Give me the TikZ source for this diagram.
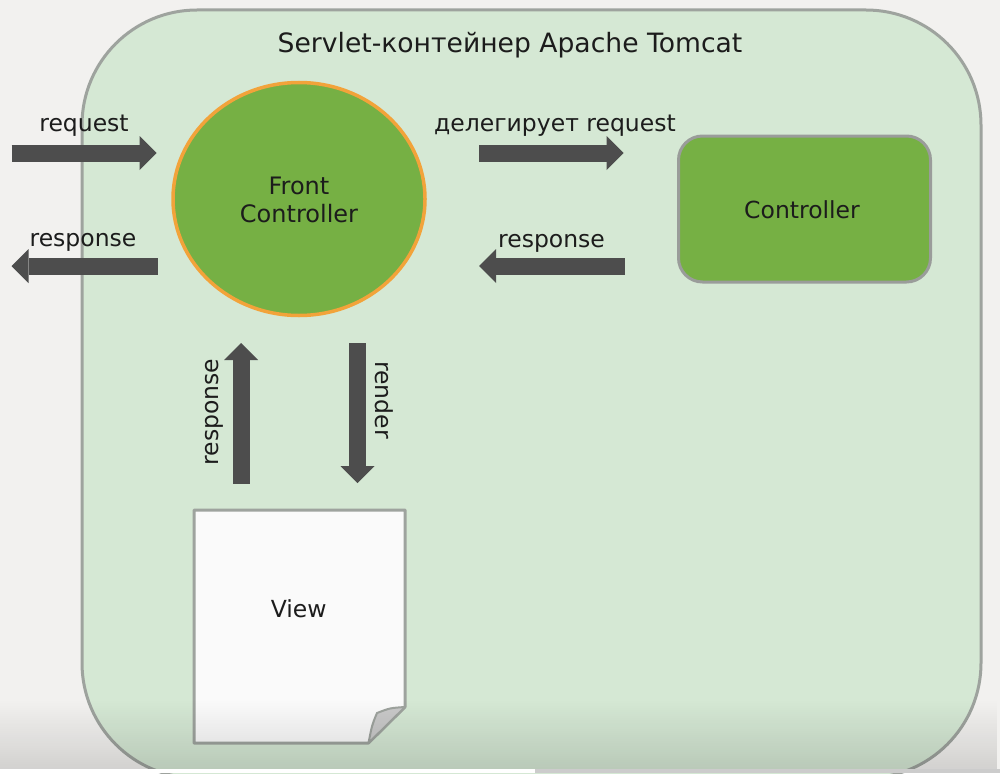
\documentclass[tikz,border=0pt]{standalone}
\usepackage{fontspec}
\setmainfont{DejaVu Sans}
\usetikzlibrary{arrows.meta,fadings,shapes.geometric}
\definecolor{bgc}{HTML}{F2F1EF}
\definecolor{contfill}{HTML}{D5E8D4}
\definecolor{contline}{HTML}{9EA39E}
\definecolor{greenfill}{HTML}{76B044}
\definecolor{orangeline}{HTML}{F2A33A}
\definecolor{boxline}{HTML}{9A9C9A}
\definecolor{arrowc}{HTML}{4D4D4D}
\definecolor{txt}{HTML}{1C1C1C}
\definecolor{pagefill}{HTML}{FAFAFA}
\definecolor{foldfill}{HTML}{C9C9C9}
\tikzset{
  lbl/.style={font=\fontsize{23.5}{28}\selectfont, text=txt, inner sep=0pt, anchor=base},
  blockarrow/.style={draw=arrowc, line width=17pt,
    -{Triangle[width=34pt,length=17pt,line width=0pt]}},
}
\begin{document}
\begin{tikzpicture}[x=1pt,y=-1pt]
\useasboundingbox (0,0) rectangle (1000,773);
\clip (0,0) rectangle (1000,773);
\fill[bgc] (0,0) rectangle (1000,773);
% container
\draw[fill=contfill, draw=contline, line width=3pt, rounded corners=115pt]
  (82,10) rectangle (981,778);
\node[lbl, font=\fontsize{26.6}{30}\selectfont] (title) at (510,52.3) {Servlet-контейнер Apache Tomcat};
% front controller
\node[ellipse, draw=orangeline, fill=greenfill, line width=3.5pt,
  minimum width=252pt, minimum height=233pt, inner sep=0pt] (fc) at (299,199) {};
\node[lbl, align=center, font=\fontsize{24}{28.4}\selectfont] (fctext) at (299,222.7) {Front\\Controller};
% controller
\node[draw=boxline, fill=greenfill, line width=3pt, rounded corners=24pt,
  minimum width=252pt, minimum height=146pt, inner sep=0pt] (ctrl) at (804.5,209) {};
\node[lbl] (ctrltext) at (802,218.3) {Controller};
% view page
\coordinate (v1) at (194,510);
\coordinate (v2) at (405,510);
\coordinate (v3) at (405,707);
\coordinate (v4) at (368.5,743);
\coordinate (v5) at (194,743);
\coordinate (vc) at (377,713);
\draw[fill=pagefill, draw=contline, line width=3pt, line join=round]
  (v1) -- (v2) -- (v3) -- (v4) -- (v5) -- cycle;
\draw[fill=foldfill, draw=contline, line width=2pt, line join=round]
  (v3) .. controls (390,708) .. (vc) .. controls (372,725) .. (v4) -- cycle;
\node[lbl] (view) at (298.7,617.3) {View};
% arrow ends
\coordinate (reqA) at (11.5,153);
\coordinate (reqB) at (156.5,153);
\coordinate (resA) at (157.5,266);
\coordinate (resB) at (11.5,266);
\coordinate (delA) at (479,153);
\coordinate (delB) at (623.5,153);
\coordinate (cresA) at (624.5,266);
\coordinate (cresB) at (479,266);
\coordinate (upA) at (241,483.5);
\coordinate (upB) at (241,343);
\coordinate (dnA) at (357.5,343);
\coordinate (dnB) at (357.5,483);
\draw[blockarrow] (reqA) -- (reqB);
\draw[blockarrow] (resA) -- (resB);
\draw[blockarrow] (delA) -- (delB);
\draw[blockarrow] (cresA) -- (cresB);
\draw[blockarrow] (upA) -- (upB);
\draw[blockarrow] (dnA) -- (dnB);
% labels
\node[lbl] (lreq) at (84,131.7) {request};
\node[lbl] (lres) at (83,246.7) {response};
\node[lbl] (ldel) at (555,131.7) {делегирует request};
\node[lbl] (lcres) at (551.5,247.7) {response};
\node[lbl, anchor=center, rotate=90] (lup) at (214.5,412) {response};
\node[lbl, anchor=center, rotate=-90] (ldn) at (384,400) {render};
% screenshot bottom shade and bar
\fill[black, opacity=0.13, path fading=north] (0,700) rectangle (1000,769);
\fill[white] (0,769) rectangle (535,773);
\fill[black!20] (535,769) rectangle (1000,773);
\end{tikzpicture}
\end{document}
